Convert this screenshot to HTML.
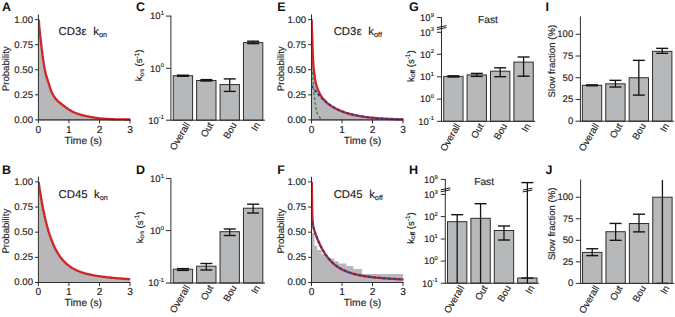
<!DOCTYPE html>
<html><head><meta charset="utf-8"><style>
html,body{margin:0;padding:0;background:#fff;}
svg{display:block;}
text{font-family:"Liberation Sans",sans-serif;text-rendering:geometricPrecision;stroke:#1c1c1c;stroke-width:0.15px;}
</style></head><body>
<svg width="675" height="317" viewBox="0 0 675 317">
<defs>
<clipPath id="cA"><rect x="38.4" y="10" width="96" height="112"/></clipPath>
<clipPath id="cB"><rect x="38.4" y="172" width="96" height="113"/></clipPath>
<clipPath id="cE"><rect x="311.5" y="10" width="96" height="112"/></clipPath>
<clipPath id="cF"><rect x="311.5" y="172" width="96" height="113"/></clipPath>
</defs>
<rect width="675" height="317" fill="#fff"/>
<path d="M38.5,19.6 L38.6,20.6 L38.7,21.7 L38.8,22.7 L38.9,23.7 L38.9,24.8 L39.0,25.8 L39.1,26.8 L39.2,27.8 L39.3,28.9 L39.4,29.9 L39.5,31.0 L39.6,32.0 L39.7,33.1 L39.8,34.1 L39.9,35.2 L40.1,36.3 L40.2,37.3 L40.3,38.4 L40.4,39.5 L40.6,40.6 L40.7,41.7 L40.8,42.8 L41.0,43.9 L41.1,45.0 L41.2,46.2 L41.4,47.5 L41.5,48.7 L41.7,50.0 L41.9,51.3 L42.0,52.6 L42.2,53.9 L42.3,55.2 L42.5,56.4 L42.7,57.7 L42.8,58.9 L43.0,60.0 L43.1,60.9 L43.3,61.8 L43.4,62.7 L43.6,63.6 L43.7,64.5 L43.9,65.3 L44.0,66.2 L44.1,67.0 L44.3,67.8 L44.4,68.6 L44.6,69.3 L44.7,70.0 L44.8,70.5 L44.9,70.9 L45.0,71.4 L45.1,71.8 L45.1,72.2 L45.2,72.6 L45.3,73.0 L45.4,73.4 L45.5,73.8 L45.6,74.2 L45.7,74.6 L45.8,75.0 L45.9,75.4 L46.0,75.8 L46.2,76.3 L46.3,76.7 L46.4,77.1 L46.6,77.5 L46.7,77.9 L46.8,78.3 L47.0,78.8 L47.1,79.2 L47.3,79.6 L47.4,80.0 L47.5,80.4 L47.7,80.8 L47.8,81.2 L47.9,81.7 L48.1,82.1 L48.2,82.5 L48.3,82.9 L48.5,83.3 L48.6,83.7 L48.7,84.2 L48.9,84.6 L49.0,85.0 L49.1,85.4 L49.3,85.8 L49.4,86.3 L49.5,86.7 L49.6,87.1 L49.8,87.5 L49.9,87.9 L50.0,88.3 L50.2,88.8 L50.3,89.2 L50.4,89.6 L50.6,90.0 L50.8,90.4 L50.9,90.8 L51.1,91.3 L51.3,91.7 L51.5,92.1 L51.6,92.5 L51.8,92.9 L52.0,93.4 L52.2,93.8 L52.4,94.2 L52.7,94.6 L52.9,95.0 L53.2,95.4 L53.4,95.9 L53.7,96.3 L54.0,96.8 L54.4,97.2 L54.7,97.6 L55.0,98.1 L55.3,98.5 L55.7,98.9 L56.0,99.3 L56.3,99.7 L56.6,100.0 L56.8,100.3 L57.1,100.5 L57.3,100.7 L57.5,101.0 L57.7,101.2 L58.0,101.4 L58.2,101.6 L58.4,101.8 L58.7,102.0 L58.9,102.2 L59.2,102.4 L59.4,102.6 L59.7,102.8 L60.0,103.1 L60.3,103.3 L60.6,103.5 L60.9,103.8 L61.2,104.0 L61.5,104.2 L61.8,104.5 L62.1,104.7 L62.4,104.9 L62.7,105.2 L63.0,105.4 L63.3,105.6 L63.6,105.8 L63.9,106.1 L64.2,106.3 L64.5,106.5 L64.8,106.7 L65.0,106.9 L65.3,107.2 L65.6,107.4 L65.9,107.6 L66.2,107.8 L66.5,108.0 L66.8,108.2 L67.1,108.4 L67.3,108.6 L67.6,108.8 L67.9,109.0 L68.1,109.2 L68.4,109.4 L68.7,109.6 L69.0,109.8 L69.2,109.9 L69.5,110.1 L69.8,110.3 L70.1,110.5 L70.4,110.6 L70.6,110.8 L70.9,110.9 L71.2,111.1 L71.5,111.2 L71.7,111.4 L72.0,111.5 L72.3,111.7 L72.6,111.8 L73.0,111.9 L73.3,112.1 L73.8,112.3 L74.3,112.5 L74.8,112.7 L75.4,113.0 L75.9,113.2 L76.5,113.4 L77.1,113.6 L77.7,113.8 L78.3,114.0 L78.8,114.2 L79.4,114.4 L80.0,114.6 L80.6,114.8 L81.2,114.9 L81.7,115.1 L82.3,115.2 L82.9,115.4 L83.5,115.5 L84.1,115.7 L84.7,115.8 L85.3,115.9 L85.9,116.1 L86.4,116.2 L87.0,116.3 L87.5,116.4 L88.0,116.5 L88.5,116.6 L89.0,116.7 L89.5,116.8 L90.0,116.9 L90.5,117.0 L91.0,117.1 L91.5,117.1 L92.0,117.2 L92.5,117.3 L93.0,117.4 L93.6,117.5 L94.1,117.6 L94.7,117.7 L95.2,117.8 L95.8,117.8 L96.4,117.9 L97.0,118.0 L97.6,118.1 L98.1,118.2 L98.8,118.3 L99.4,118.3 L100.0,118.4 L100.8,118.5 L101.6,118.6 L102.4,118.6 L103.2,118.7 L104.0,118.7 L104.9,118.8 L105.7,118.9 L106.6,118.9 L107.5,119.0 L108.3,119.0 L109.2,119.1 L110.0,119.1 L110.8,119.1 L111.7,119.2 L112.5,119.2 L113.3,119.2 L114.2,119.3 L115.0,119.3 L115.8,119.3 L116.7,119.3 L117.5,119.3 L118.3,119.4 L119.2,119.4 L120.0,119.4 L120.8,119.4 L121.7,119.4 L122.5,119.4 L123.3,119.4 L124.2,119.5 L125.0,119.5 L125.8,119.5 L126.7,119.5 L127.5,119.5 L128.3,119.5 L129.2,119.5 L130.0,119.5 L130.00,119.90 L38.40,119.90 Z" fill="#b8b8ba" stroke="none" transform="translate(-0.4,0.5)"/>
<path d="M38.5,19.6 L38.6,20.6 L38.7,21.7 L38.8,22.7 L38.9,23.7 L38.9,24.8 L39.0,25.8 L39.1,26.8 L39.2,27.8 L39.3,28.9 L39.4,29.9 L39.5,31.0 L39.6,32.0 L39.7,33.1 L39.8,34.1 L39.9,35.2 L40.1,36.3 L40.2,37.3 L40.3,38.4 L40.4,39.5 L40.6,40.6 L40.7,41.7 L40.8,42.8 L41.0,43.9 L41.1,45.0 L41.2,46.2 L41.4,47.5 L41.5,48.7 L41.7,50.0 L41.9,51.3 L42.0,52.6 L42.2,53.9 L42.3,55.2 L42.5,56.4 L42.7,57.7 L42.8,58.9 L43.0,60.0 L43.1,60.9 L43.3,61.8 L43.4,62.7 L43.6,63.6 L43.7,64.5 L43.9,65.3 L44.0,66.2 L44.1,67.0 L44.3,67.8 L44.4,68.6 L44.6,69.3 L44.7,70.0 L44.8,70.5 L44.9,70.9 L45.0,71.4 L45.1,71.8 L45.1,72.2 L45.2,72.6 L45.3,73.0 L45.4,73.4 L45.5,73.8 L45.6,74.2 L45.7,74.6 L45.8,75.0 L45.9,75.4 L46.0,75.8 L46.2,76.3 L46.3,76.7 L46.4,77.1 L46.6,77.5 L46.7,77.9 L46.8,78.3 L47.0,78.8 L47.1,79.2 L47.3,79.6 L47.4,80.0 L47.5,80.4 L47.7,80.8 L47.8,81.2 L47.9,81.7 L48.1,82.1 L48.2,82.5 L48.3,82.9 L48.5,83.3 L48.6,83.7 L48.7,84.2 L48.9,84.6 L49.0,85.0 L49.1,85.4 L49.3,85.8 L49.4,86.3 L49.5,86.7 L49.6,87.1 L49.8,87.5 L49.9,87.9 L50.0,88.3 L50.2,88.8 L50.3,89.2 L50.4,89.6 L50.6,90.0 L50.8,90.4 L50.9,90.8 L51.1,91.3 L51.3,91.7 L51.5,92.1 L51.6,92.5 L51.8,92.9 L52.0,93.4 L52.2,93.8 L52.4,94.2 L52.7,94.6 L52.9,95.0 L53.2,95.4 L53.4,95.9 L53.7,96.3 L54.0,96.8 L54.4,97.2 L54.7,97.6 L55.0,98.1 L55.3,98.5 L55.7,98.9 L56.0,99.3 L56.3,99.7 L56.6,100.0 L56.8,100.3 L57.1,100.5 L57.3,100.7 L57.5,101.0 L57.7,101.2 L58.0,101.4 L58.2,101.6 L58.4,101.8 L58.7,102.0 L58.9,102.2 L59.2,102.4 L59.4,102.6 L59.7,102.8 L60.0,103.1 L60.3,103.3 L60.6,103.5 L60.9,103.8 L61.2,104.0 L61.5,104.2 L61.8,104.5 L62.1,104.7 L62.4,104.9 L62.7,105.2 L63.0,105.4 L63.3,105.6 L63.6,105.8 L63.9,106.1 L64.2,106.3 L64.5,106.5 L64.8,106.7 L65.0,106.9 L65.3,107.2 L65.6,107.4 L65.9,107.6 L66.2,107.8 L66.5,108.0 L66.8,108.2 L67.1,108.4 L67.3,108.6 L67.6,108.8 L67.9,109.0 L68.1,109.2 L68.4,109.4 L68.7,109.6 L69.0,109.8 L69.2,109.9 L69.5,110.1 L69.8,110.3 L70.1,110.5 L70.4,110.6 L70.6,110.8 L70.9,110.9 L71.2,111.1 L71.5,111.2 L71.7,111.4 L72.0,111.5 L72.3,111.7 L72.6,111.8 L73.0,111.9 L73.3,112.1 L73.8,112.3 L74.3,112.5 L74.8,112.7 L75.4,113.0 L75.9,113.2 L76.5,113.4 L77.1,113.6 L77.7,113.8 L78.3,114.0 L78.8,114.2 L79.4,114.4 L80.0,114.6 L80.6,114.8 L81.2,114.9 L81.7,115.1 L82.3,115.2 L82.9,115.4 L83.5,115.5 L84.1,115.7 L84.7,115.8 L85.3,115.9 L85.9,116.1 L86.4,116.2 L87.0,116.3 L87.5,116.4 L88.0,116.5 L88.5,116.6 L89.0,116.7 L89.5,116.8 L90.0,116.9 L90.5,117.0 L91.0,117.1 L91.5,117.1 L92.0,117.2 L92.5,117.3 L93.0,117.4 L93.6,117.5 L94.1,117.6 L94.7,117.7 L95.2,117.8 L95.8,117.8 L96.4,117.9 L97.0,118.0 L97.6,118.1 L98.1,118.2 L98.8,118.3 L99.4,118.3 L100.0,118.4 L100.8,118.5 L101.6,118.6 L102.4,118.6 L103.2,118.7 L104.0,118.7 L104.9,118.8 L105.7,118.9 L106.6,118.9 L107.5,119.0 L108.3,119.0 L109.2,119.1 L110.0,119.1 L110.8,119.1 L111.7,119.2 L112.5,119.2 L113.3,119.2 L114.2,119.3 L115.0,119.3 L115.8,119.3 L116.7,119.3 L117.5,119.3 L118.3,119.4 L119.2,119.4 L120.0,119.4 L120.8,119.4 L121.7,119.4 L122.5,119.4 L123.3,119.4 L124.2,119.5 L125.0,119.5 L125.8,119.5 L126.7,119.5 L127.5,119.5 L128.3,119.5 L129.2,119.5 L130.0,119.5" fill="none" stroke="#d02529" stroke-width="2.35" transform="translate(0.2,0)" clip-path="url(#cA)"/>
<line x1="38.40" y1="14.40" x2="38.40" y2="120.40" stroke="#2e2e2e" stroke-width="1" />
<line x1="35.00" y1="119.90" x2="38.40" y2="119.90" stroke="#2e2e2e" stroke-width="1" />
<text x="33.00" y="122.80" font-size="9.6" text-anchor="end" font-weight="normal" fill="#1c1c1c" >0.00</text>
<line x1="35.00" y1="94.83" x2="38.40" y2="94.83" stroke="#2e2e2e" stroke-width="1" />
<text x="33.00" y="97.73" font-size="9.6" text-anchor="end" font-weight="normal" fill="#1c1c1c" >0.25</text>
<line x1="35.00" y1="69.75" x2="38.40" y2="69.75" stroke="#2e2e2e" stroke-width="1" />
<text x="33.00" y="72.65" font-size="9.6" text-anchor="end" font-weight="normal" fill="#1c1c1c" >0.50</text>
<line x1="35.00" y1="44.67" x2="38.40" y2="44.67" stroke="#2e2e2e" stroke-width="1" />
<text x="33.00" y="47.57" font-size="9.6" text-anchor="end" font-weight="normal" fill="#1c1c1c" >0.75</text>
<line x1="35.00" y1="19.60" x2="38.40" y2="19.60" stroke="#2e2e2e" stroke-width="1" />
<text x="33.00" y="22.50" font-size="9.6" text-anchor="end" font-weight="normal" fill="#1c1c1c" >1.00</text>
<line x1="37.90" y1="119.90" x2="130.50" y2="119.90" stroke="#2e2e2e" stroke-width="1.2" />
<line x1="38.40" y1="119.90" x2="38.40" y2="123.40" stroke="#2e2e2e" stroke-width="1" />
<text x="38.40" y="132.80" font-size="10.2" text-anchor="middle" font-weight="normal" fill="#1c1c1c" >0</text>
<line x1="68.93" y1="119.90" x2="68.93" y2="123.40" stroke="#2e2e2e" stroke-width="1" />
<text x="68.93" y="132.80" font-size="10.2" text-anchor="middle" font-weight="normal" fill="#1c1c1c" >1</text>
<line x1="99.47" y1="119.90" x2="99.47" y2="123.40" stroke="#2e2e2e" stroke-width="1" />
<text x="99.47" y="132.80" font-size="10.2" text-anchor="middle" font-weight="normal" fill="#1c1c1c" >2</text>
<line x1="130.00" y1="119.90" x2="130.00" y2="123.40" stroke="#2e2e2e" stroke-width="1" />
<text x="130.00" y="132.80" font-size="10.2" text-anchor="middle" font-weight="normal" fill="#1c1c1c" >3</text>
<text x="83.30" y="143.60" font-size="10.3" text-anchor="middle" font-weight="normal" fill="#1c1c1c" >Time (s)</text>
<text x="0" y="0" font-size="9.6" text-anchor="middle" fill="#1c1c1c" transform="translate(9.40,68.75) rotate(-90)">Probability</text>
<text x="58.6" y="35.3" font-size="11.3" fill="#1c1c1c">CD3<tspan dx="0.4">ε</tspan><tspan dx="6.6">k</tspan><tspan font-size="7.3" dy="1.8">on</tspan></text>
<text x="2.00" y="11.20" font-size="12.5" text-anchor="start" font-weight="bold" fill="#111" style="stroke:none">A</text>
<path d="M38.4,184.9 L38.4,185.1 L38.5,185.3 L38.5,185.7 L38.6,186.1 L38.7,186.6 L38.7,187.2 L38.8,187.9 L38.9,188.6 L39.0,189.3 L39.2,190.1 L39.3,190.9 L39.4,191.7 L39.6,192.6 L39.7,193.5 L39.9,194.5 L40.0,195.5 L40.2,196.5 L40.4,197.5 L40.5,198.5 L40.7,199.6 L40.9,200.7 L41.1,201.8 L41.3,202.9 L41.5,204.0 L41.7,205.1 L41.9,206.3 L42.1,207.4 L42.4,208.6 L42.6,209.7 L42.8,210.9 L43.1,212.0 L43.3,213.2 L43.6,214.4 L43.8,215.5 L44.1,216.7 L44.3,217.8 L44.6,219.0 L44.9,220.1 L45.2,221.2 L45.4,222.4 L45.7,223.5 L46.0,224.6 L46.3,225.7 L46.6,226.8 L46.9,227.9 L47.2,229.0 L47.5,230.0 L47.8,231.1 L48.1,232.1 L48.4,233.1 L48.8,234.2 L49.1,235.1 L49.4,236.1 L49.8,237.1 L50.1,238.1 L50.4,239.0 L50.8,239.9 L51.1,240.9 L51.5,241.8 L51.9,242.6 L52.2,243.5 L52.6,244.4 L52.9,245.2 L53.3,246.0 L53.7,246.8 L54.1,247.6 L54.4,248.4 L54.8,249.2 L55.2,249.9 L55.6,250.7 L56.0,251.4 L56.4,252.1 L56.8,252.8 L57.2,253.4 L57.6,254.1 L58.0,254.7 L58.5,255.4 L58.9,256.0 L59.3,256.6 L59.7,257.2 L60.1,257.8 L60.6,258.3 L61.0,258.9 L61.4,259.4 L61.9,259.9 L62.3,260.4 L62.8,260.9 L63.2,261.4 L63.7,261.9 L64.1,262.3 L64.6,262.8 L65.1,263.2 L65.5,263.7 L66.0,264.1 L66.5,264.5 L66.9,264.9 L67.4,265.3 L67.9,265.6 L68.4,266.0 L68.9,266.4 L69.3,266.7 L69.8,267.0 L70.3,267.4 L70.8,267.7 L71.3,268.0 L71.8,268.3 L72.3,268.6 L72.9,268.9 L73.4,269.2 L73.9,269.4 L74.4,269.7 L74.9,270.0 L75.4,270.2 L76.0,270.5 L76.5,270.7 L77.0,270.9 L77.6,271.1 L78.1,271.4 L78.6,271.6 L79.2,271.8 L79.7,272.0 L80.3,272.2 L80.8,272.4 L81.4,272.6 L81.9,272.7 L82.5,272.9 L83.0,273.1 L83.6,273.3 L84.2,273.4 L84.7,273.6 L85.3,273.7 L85.9,273.9 L86.5,274.0 L87.1,274.2 L87.6,274.3 L88.2,274.5 L88.8,274.6 L89.4,274.7 L90.0,274.8 L90.6,275.0 L91.2,275.1 L91.8,275.2 L92.4,275.3 L93.0,275.4 L93.6,275.6 L94.2,275.7 L94.8,275.8 L95.4,275.9 L96.1,276.0 L96.7,276.1 L97.3,276.2 L97.9,276.3 L98.6,276.4 L99.2,276.4 L99.8,276.5 L100.4,276.6 L101.1,276.7 L101.7,276.8 L102.4,276.9 L103.0,277.0 L103.7,277.0 L104.3,277.1 L105.0,277.2 L105.6,277.3 L106.3,277.3 L106.9,277.4 L107.6,277.5 L108.3,277.5 L108.9,277.6 L109.6,277.7 L110.3,277.8 L110.9,277.8 L111.6,277.9 L112.3,277.9 L113.0,278.0 L113.7,278.1 L114.3,278.1 L115.0,278.2 L115.7,278.2 L116.4,278.3 L117.1,278.4 L117.8,278.4 L118.5,278.5 L119.2,278.5 L119.9,278.6 L120.6,278.6 L121.3,278.7 L122.0,278.7 L122.7,278.8 L123.5,278.8 L124.2,278.9 L124.9,278.9 L125.6,279.0 L126.3,279.0 L127.1,279.1 L127.8,279.1 L128.5,279.2 L129.3,279.2 L130.0,279.3 L130.00,282.50 L38.40,282.50 Z" fill="#b8b8ba" stroke="none"/>
<path d="M38.4,181.9 L38.4,182.0 L38.5,182.3 L38.5,182.7 L38.6,183.2 L38.7,183.7 L38.7,184.3 L38.8,184.9 L38.9,185.6 L39.0,186.4 L39.2,187.2 L39.3,188.0 L39.4,188.9 L39.6,189.8 L39.7,190.8 L39.9,191.8 L40.0,192.8 L40.2,193.8 L40.4,194.9 L40.5,196.0 L40.7,197.0 L40.9,198.2 L41.1,199.3 L41.3,200.4 L41.5,201.6 L41.7,202.7 L41.9,203.9 L42.1,205.1 L42.4,206.3 L42.6,207.5 L42.8,208.7 L43.1,209.9 L43.3,211.1 L43.6,212.3 L43.8,213.4 L44.1,214.6 L44.3,215.8 L44.6,217.0 L44.9,218.2 L45.2,219.4 L45.4,220.5 L45.7,221.7 L46.0,222.8 L46.3,224.0 L46.6,225.1 L46.9,226.2 L47.2,227.3 L47.5,228.4 L47.8,229.5 L48.1,230.6 L48.4,231.6 L48.8,232.7 L49.1,233.7 L49.4,234.7 L49.8,235.7 L50.1,236.7 L50.4,237.7 L50.8,238.6 L51.1,239.6 L51.5,240.5 L51.9,241.4 L52.2,242.3 L52.6,243.2 L52.9,244.0 L53.3,244.9 L53.7,245.7 L54.1,246.5 L54.4,247.4 L54.8,248.1 L55.2,248.9 L55.6,249.7 L56.0,250.4 L56.4,251.1 L56.8,251.8 L57.2,252.5 L57.6,253.2 L58.0,253.9 L58.5,254.5 L58.9,255.2 L59.3,255.8 L59.7,256.4 L60.1,257.0 L60.6,257.6 L61.0,258.1 L61.4,258.7 L61.9,259.2 L62.3,259.7 L62.8,260.3 L63.2,260.8 L63.7,261.2 L64.1,261.7 L64.6,262.2 L65.1,262.6 L65.5,263.1 L66.0,263.5 L66.5,263.9 L66.9,264.3 L67.4,264.7 L67.9,265.1 L68.4,265.5 L68.9,265.9 L69.3,266.2 L69.8,266.6 L70.3,266.9 L70.8,267.2 L71.3,267.6 L71.8,267.9 L72.3,268.2 L72.9,268.5 L73.4,268.8 L73.9,269.0 L74.4,269.3 L74.9,269.6 L75.4,269.8 L76.0,270.1 L76.5,270.3 L77.0,270.6 L77.6,270.8 L78.1,271.0 L78.6,271.2 L79.2,271.5 L79.7,271.7 L80.3,271.9 L80.8,272.1 L81.4,272.3 L81.9,272.4 L82.5,272.6 L83.0,272.8 L83.6,273.0 L84.2,273.1 L84.7,273.3 L85.3,273.5 L85.9,273.6 L86.5,273.8 L87.1,273.9 L87.6,274.1 L88.2,274.2 L88.8,274.3 L89.4,274.5 L90.0,274.6 L90.6,274.7 L91.2,274.9 L91.8,275.0 L92.4,275.1 L93.0,275.2 L93.6,275.3 L94.2,275.4 L94.8,275.6 L95.4,275.7 L96.1,275.8 L96.7,275.9 L97.3,276.0 L97.9,276.1 L98.6,276.2 L99.2,276.3 L99.8,276.3 L100.4,276.4 L101.1,276.5 L101.7,276.6 L102.4,276.7 L103.0,276.8 L103.7,276.9 L104.3,276.9 L105.0,277.0 L105.6,277.1 L106.3,277.2 L106.9,277.3 L107.6,277.3 L108.3,277.4 L108.9,277.5 L109.6,277.5 L110.3,277.6 L110.9,277.7 L111.6,277.7 L112.3,277.8 L113.0,277.9 L113.7,277.9 L114.3,278.0 L115.0,278.1 L115.7,278.1 L116.4,278.2 L117.1,278.2 L117.8,278.3 L118.5,278.3 L119.2,278.4 L119.9,278.5 L120.6,278.5 L121.3,278.6 L122.0,278.6 L122.7,278.7 L123.5,278.7 L124.2,278.8 L124.9,278.8 L125.6,278.9 L126.3,278.9 L127.1,279.0 L127.8,279.0 L128.5,279.1 L129.3,279.1 L130.0,279.1" fill="none" stroke="#d02529" stroke-width="2.35" transform="translate(0.2,0)" clip-path="url(#cB)"/>
<line x1="38.40" y1="176.70" x2="38.40" y2="283.00" stroke="#2e2e2e" stroke-width="1" />
<line x1="35.00" y1="282.50" x2="38.40" y2="282.50" stroke="#2e2e2e" stroke-width="1" />
<text x="33.00" y="285.40" font-size="9.6" text-anchor="end" font-weight="normal" fill="#1c1c1c" >0.00</text>
<line x1="35.00" y1="257.35" x2="38.40" y2="257.35" stroke="#2e2e2e" stroke-width="1" />
<text x="33.00" y="260.25" font-size="9.6" text-anchor="end" font-weight="normal" fill="#1c1c1c" >0.25</text>
<line x1="35.00" y1="232.20" x2="38.40" y2="232.20" stroke="#2e2e2e" stroke-width="1" />
<text x="33.00" y="235.10" font-size="9.6" text-anchor="end" font-weight="normal" fill="#1c1c1c" >0.50</text>
<line x1="35.00" y1="207.05" x2="38.40" y2="207.05" stroke="#2e2e2e" stroke-width="1" />
<text x="33.00" y="209.95" font-size="9.6" text-anchor="end" font-weight="normal" fill="#1c1c1c" >0.75</text>
<line x1="35.00" y1="181.90" x2="38.40" y2="181.90" stroke="#2e2e2e" stroke-width="1" />
<text x="33.00" y="184.80" font-size="9.6" text-anchor="end" font-weight="normal" fill="#1c1c1c" >1.00</text>
<line x1="37.90" y1="282.50" x2="130.50" y2="282.50" stroke="#2e2e2e" stroke-width="1.2" />
<line x1="38.40" y1="282.50" x2="38.40" y2="286.00" stroke="#2e2e2e" stroke-width="1" />
<text x="38.40" y="295.40" font-size="10.2" text-anchor="middle" font-weight="normal" fill="#1c1c1c" >0</text>
<line x1="68.93" y1="282.50" x2="68.93" y2="286.00" stroke="#2e2e2e" stroke-width="1" />
<text x="68.93" y="295.40" font-size="10.2" text-anchor="middle" font-weight="normal" fill="#1c1c1c" >1</text>
<line x1="99.47" y1="282.50" x2="99.47" y2="286.00" stroke="#2e2e2e" stroke-width="1" />
<text x="99.47" y="295.40" font-size="10.2" text-anchor="middle" font-weight="normal" fill="#1c1c1c" >2</text>
<line x1="130.00" y1="282.50" x2="130.00" y2="286.00" stroke="#2e2e2e" stroke-width="1" />
<text x="130.00" y="295.40" font-size="10.2" text-anchor="middle" font-weight="normal" fill="#1c1c1c" >3</text>
<text x="83.30" y="306.20" font-size="10.3" text-anchor="middle" font-weight="normal" fill="#1c1c1c" >Time (s)</text>
<text x="0" y="0" font-size="9.6" text-anchor="middle" fill="#1c1c1c" transform="translate(9.40,231.20) rotate(-90)">Probability</text>
<text x="58.6" y="197.8" font-size="11.3" fill="#1c1c1c">CD45<tspan dx="6.6">k</tspan><tspan font-size="7.3" dy="1.8">on</tspan></text>
<text x="2.00" y="173.80" font-size="12.5" text-anchor="start" font-weight="bold" fill="#111" style="stroke:none">B</text>
<path d="M311.6,19.6 L311.6,20.5 L311.6,21.3 L311.7,22.2 L311.7,23.1 L311.7,23.9 L311.7,24.8 L311.8,25.7 L311.8,26.5 L311.8,27.4 L311.8,28.3 L311.9,29.1 L311.9,30.0 L311.9,30.8 L312.0,31.7 L312.0,32.5 L312.0,33.3 L312.1,34.2 L312.1,35.0 L312.1,35.8 L312.2,36.7 L312.2,37.5 L312.2,38.3 L312.3,39.2 L312.3,40.0 L312.3,40.8 L312.4,41.7 L312.4,42.5 L312.4,43.3 L312.4,44.2 L312.4,45.0 L312.5,45.8 L312.5,46.7 L312.5,47.5 L312.5,48.3 L312.6,49.2 L312.6,50.0 L312.6,50.8 L312.7,51.7 L312.7,52.5 L312.7,53.3 L312.7,54.2 L312.8,55.0 L312.8,55.8 L312.8,56.7 L312.9,57.5 L312.9,58.3 L313.0,59.2 L313.0,60.0 L313.1,60.8 L313.1,61.7 L313.2,62.5 L313.2,63.3 L313.3,64.2 L313.3,65.0 L313.4,65.8 L313.5,66.7 L313.5,67.5 L313.6,68.3 L313.7,69.2 L313.8,70.0 L313.9,70.8 L314.0,71.7 L314.1,72.6 L314.2,73.5 L314.3,74.3 L314.5,75.2 L314.6,76.1 L314.7,76.9 L314.8,77.7 L314.9,78.5 L315.1,79.3 L315.2,80.0 L315.3,80.5 L315.4,80.9 L315.5,81.4 L315.5,81.8 L315.6,82.2 L315.7,82.6 L315.8,83.0 L315.9,83.4 L316.0,83.8 L316.1,84.2 L316.2,84.6 L316.3,85.0 L316.4,85.4 L316.6,85.9 L316.7,86.3 L316.8,86.7 L317.0,87.2 L317.1,87.6 L317.3,88.1 L317.4,88.5 L317.6,88.9 L317.7,89.3 L317.9,89.6 L318.0,90.0 L318.1,90.2 L318.2,90.5 L318.3,90.7 L318.4,90.9 L318.5,91.1 L318.5,91.3 L318.6,91.4 L318.7,91.6 L318.8,91.8 L318.9,92.0 L319.0,92.2 L319.1,92.4 L319.2,92.6 L319.3,92.8 L319.4,93.0 L319.5,93.3 L319.6,93.5 L319.7,93.7 L319.8,93.9 L319.9,94.1 L320.0,94.3 L320.2,94.6 L320.3,94.8 L320.4,95.0 L320.5,95.2 L320.7,95.5 L320.8,95.7 L321.0,95.9 L321.1,96.2 L321.3,96.4 L321.4,96.7 L321.6,96.9 L321.7,97.1 L321.9,97.4 L322.0,97.6 L322.2,97.8 L322.4,98.0 L322.5,98.2 L322.7,98.4 L322.9,98.6 L323.0,98.8 L323.2,99.0 L323.4,99.1 L323.6,99.3 L323.7,99.5 L323.9,99.7 L324.1,99.9 L324.3,100.1 L324.5,100.3 L324.7,100.6 L324.9,100.8 L325.2,101.0 L325.4,101.3 L325.6,101.5 L325.9,101.7 L326.1,102.0 L326.3,102.2 L326.5,102.5 L326.8,102.7 L327.0,103.0 L328.0,103.8 L328.9,104.5 L329.9,105.1 L330.8,105.8 L331.8,106.4 L332.8,107.0 L333.7,107.5 L334.7,108.1 L335.7,108.6 L336.6,109.0 L337.6,109.5 L338.5,110.0 L339.5,110.4 L340.5,110.8 L341.4,111.2 L342.4,111.6 L343.4,111.9 L344.3,112.3 L345.3,112.6 L346.2,112.9 L347.2,113.2 L348.2,113.5 L349.1,113.8 L350.1,114.0 L351.1,114.3 L352.0,114.5 L353.0,114.7 L353.9,115.0 L354.9,115.2 L355.9,115.4 L356.8,115.6 L357.8,115.8 L358.7,115.9 L359.7,116.1 L360.7,116.3 L361.6,116.4 L362.6,116.6 L363.6,116.7 L364.5,116.9 L365.5,117.0 L366.4,117.1 L367.4,117.2 L368.4,117.3 L369.3,117.5 L370.3,117.6 L371.3,117.7 L372.2,117.8 L373.2,117.8 L374.1,117.9 L375.1,118.0 L376.1,118.1 L377.0,118.2 L378.0,118.3 L378.9,118.3 L379.9,118.4 L380.9,118.5 L381.8,118.5 L382.8,118.6 L383.8,118.6 L384.7,118.7 L385.7,118.7 L386.6,118.8 L387.6,118.8 L388.6,118.9 L389.5,118.9 L390.5,119.0 L391.5,119.0 L392.4,119.0 L393.4,119.1 L394.3,119.1 L395.3,119.2 L396.3,119.2 L397.2,119.2 L398.2,119.2 L399.2,119.3 L400.1,119.3 L401.1,119.3 L402.0,119.3 L403.0,119.4 L403.00,119.90 L311.50,119.90 Z" fill="#b8b8ba" stroke="none" transform="translate(-0.3,0.6)"/>
<path d="M311.6,19.6 L311.6,20.5 L311.6,21.3 L311.7,22.2 L311.7,23.1 L311.7,23.9 L311.7,24.8 L311.8,25.7 L311.8,26.5 L311.8,27.4 L311.8,28.3 L311.9,29.1 L311.9,30.0 L311.9,30.8 L312.0,31.7 L312.0,32.5 L312.0,33.3 L312.1,34.2 L312.1,35.0 L312.1,35.8 L312.2,36.7 L312.2,37.5 L312.2,38.3 L312.3,39.2 L312.3,40.0 L312.3,40.8 L312.4,41.7 L312.4,42.5 L312.4,43.3 L312.4,44.2 L312.4,45.0 L312.5,45.8 L312.5,46.7 L312.5,47.5 L312.5,48.3 L312.6,49.2 L312.6,50.0 L312.6,50.8 L312.7,51.7 L312.7,52.5 L312.7,53.3 L312.7,54.2 L312.8,55.0 L312.8,55.8 L312.8,56.7 L312.9,57.5 L312.9,58.3 L313.0,59.2 L313.0,60.0 L313.1,60.8 L313.1,61.7 L313.2,62.5 L313.2,63.3 L313.3,64.2 L313.3,65.0 L313.4,65.8 L313.5,66.7 L313.5,67.5 L313.6,68.3 L313.7,69.2 L313.8,70.0 L313.9,70.8 L314.0,71.7 L314.1,72.6 L314.2,73.5 L314.3,74.3 L314.5,75.2 L314.6,76.1 L314.7,76.9 L314.8,77.7 L314.9,78.5 L315.1,79.3 L315.2,80.0 L315.3,80.5 L315.4,80.9 L315.5,81.4 L315.5,81.8 L315.6,82.2 L315.7,82.6 L315.8,83.0 L315.9,83.4 L316.0,83.8 L316.1,84.2 L316.2,84.6 L316.3,85.0 L316.4,85.4 L316.6,85.9 L316.7,86.3 L316.8,86.7 L317.0,87.2 L317.1,87.6 L317.3,88.1 L317.4,88.5 L317.6,88.9 L317.7,89.3 L317.9,89.6 L318.0,90.0 L318.1,90.2 L318.2,90.5 L318.3,90.7 L318.4,90.9 L318.5,91.1 L318.5,91.3 L318.6,91.4 L318.7,91.6 L318.8,91.8 L318.9,92.0 L319.0,92.2 L319.1,92.4 L319.2,92.6 L319.3,92.8 L319.4,93.0 L319.5,93.3 L319.6,93.5 L319.7,93.7 L319.8,93.9 L319.9,94.1 L320.0,94.3 L320.2,94.6 L320.3,94.8 L320.4,95.0 L320.5,95.2 L320.7,95.5 L320.8,95.7 L321.0,95.9 L321.1,96.2 L321.3,96.4 L321.4,96.7 L321.6,96.9 L321.7,97.1 L321.9,97.4 L322.0,97.6 L322.2,97.8 L322.4,98.0 L322.5,98.2 L322.7,98.4 L322.9,98.6 L323.0,98.8 L323.2,99.0 L323.4,99.1 L323.6,99.3 L323.7,99.5 L323.9,99.7 L324.1,99.9 L324.3,100.1 L324.5,100.3 L324.7,100.6 L324.9,100.8 L325.2,101.0 L325.4,101.3 L325.6,101.5 L325.9,101.7 L326.1,102.0 L326.3,102.2 L326.5,102.5 L326.8,102.7 L327.0,103.0 L328.0,103.8 L328.9,104.5 L329.9,105.1 L330.8,105.8 L331.8,106.4 L332.8,107.0 L333.7,107.5 L334.7,108.1 L335.7,108.6 L336.6,109.0 L337.6,109.5 L338.5,110.0 L339.5,110.4 L340.5,110.8 L341.4,111.2 L342.4,111.6 L343.4,111.9 L344.3,112.3 L345.3,112.6 L346.2,112.9 L347.2,113.2 L348.2,113.5 L349.1,113.8 L350.1,114.0 L351.1,114.3 L352.0,114.5 L353.0,114.7 L353.9,115.0 L354.9,115.2 L355.9,115.4 L356.8,115.6 L357.8,115.8 L358.7,115.9 L359.7,116.1 L360.7,116.3 L361.6,116.4 L362.6,116.6 L363.6,116.7 L364.5,116.9 L365.5,117.0 L366.4,117.1 L367.4,117.2 L368.4,117.3 L369.3,117.5 L370.3,117.6 L371.3,117.7 L372.2,117.8 L373.2,117.8 L374.1,117.9 L375.1,118.0 L376.1,118.1 L377.0,118.2 L378.0,118.3 L378.9,118.3 L379.9,118.4 L380.9,118.5 L381.8,118.5 L382.8,118.6 L383.8,118.6 L384.7,118.7 L385.7,118.7 L386.6,118.8 L387.6,118.8 L388.6,118.9 L389.5,118.9 L390.5,119.0 L391.5,119.0 L392.4,119.0 L393.4,119.1 L394.3,119.1 L395.3,119.2 L396.3,119.2 L397.2,119.2 L398.2,119.2 L399.2,119.3 L400.1,119.3 L401.1,119.3 L402.0,119.3 L403.0,119.4" fill="none" stroke="#d02529" stroke-width="2.35" transform="translate(0.05,0)" clip-path="url(#cE)"/>
<path d="M311.5,85.8 L311.5,85.8 L311.6,85.9 L311.6,86.0 L311.7,86.1 L311.8,86.2 L311.8,86.3 L311.9,86.5 L312.0,86.6 L312.1,86.8 L312.3,87.0 L312.4,87.2 L312.5,87.4 L312.7,87.6 L312.8,87.8 L313.0,88.0 L313.1,88.2 L313.3,88.5 L313.5,88.7 L313.6,89.0 L313.8,89.2 L314.0,89.5 L314.2,89.7 L314.4,90.0 L314.6,90.3 L314.8,90.6 L315.0,90.9 L315.2,91.1 L315.5,91.4 L315.7,91.7 L315.9,92.0 L316.2,92.3 L316.4,92.6 L316.7,92.9 L316.9,93.3 L317.2,93.6 L317.4,93.9 L317.7,94.2 L318.0,94.5 L318.2,94.8 L318.5,95.1 L318.8,95.5 L319.1,95.8 L319.4,96.1 L319.7,96.4 L320.0,96.7 L320.3,97.0 L320.6,97.4 L320.9,97.7 L321.2,98.0 L321.5,98.3 L321.9,98.6 L322.2,98.9 L322.5,99.3 L322.9,99.6 L323.2,99.9 L323.5,100.2 L323.9,100.5 L324.2,100.8 L324.6,101.1 L324.9,101.4 L325.3,101.7 L325.7,102.0 L326.0,102.3 L326.4,102.6 L326.8,102.9 L327.2,103.2 L327.5,103.5 L327.9,103.8 L328.3,104.0 L328.7,104.3 L329.1,104.6 L329.5,104.9 L329.9,105.1 L330.3,105.4 L330.7,105.7 L331.1,105.9 L331.5,106.2 L331.9,106.5 L332.4,106.7 L332.8,107.0 L333.2,107.2 L333.6,107.5 L334.1,107.7 L334.5,108.0 L335.0,108.2 L335.4,108.4 L335.8,108.7 L336.3,108.9 L336.8,109.1 L337.2,109.3 L337.7,109.6 L338.1,109.8 L338.6,110.0 L339.1,110.2 L339.5,110.4 L340.0,110.6 L340.5,110.8 L341.0,111.0 L341.4,111.2 L341.9,111.4 L342.4,111.6 L342.9,111.7 L343.4,111.9 L343.9,112.1 L344.4,112.3 L344.9,112.5 L345.4,112.6 L345.9,112.8 L346.4,113.0 L346.9,113.1 L347.5,113.3 L348.0,113.4 L348.5,113.6 L349.0,113.7 L349.6,113.9 L350.1,114.0 L350.6,114.2 L351.2,114.3 L351.7,114.4 L352.2,114.6 L352.8,114.7 L353.3,114.8 L353.9,115.0 L354.4,115.1 L355.0,115.2 L355.5,115.3 L356.1,115.4 L356.7,115.5 L357.2,115.7 L357.8,115.8 L358.4,115.9 L358.9,116.0 L359.5,116.1 L360.1,116.2 L360.7,116.3 L361.3,116.4 L361.9,116.5 L362.4,116.6 L363.0,116.6 L363.6,116.7 L364.2,116.8 L364.8,116.9 L365.4,117.0 L366.0,117.1 L366.6,117.1 L367.2,117.2 L367.9,117.3 L368.5,117.4 L369.1,117.4 L369.7,117.5 L370.3,117.6 L371.0,117.6 L371.6,117.7 L372.2,117.8 L372.8,117.8 L373.5,117.9 L374.1,117.9 L374.8,118.0 L375.4,118.0 L376.0,118.1 L376.7,118.2 L377.3,118.2 L378.0,118.3 L378.6,118.3 L379.3,118.3 L380.0,118.4 L380.6,118.4 L381.3,118.5 L381.9,118.5 L382.6,118.6 L383.3,118.6 L384.0,118.6 L384.6,118.7 L385.3,118.7 L386.0,118.8 L386.7,118.8 L387.4,118.8 L388.0,118.9 L388.7,118.9 L389.4,118.9 L390.1,119.0 L390.8,119.0 L391.5,119.0 L392.2,119.0 L392.9,119.1 L393.6,119.1 L394.3,119.1 L395.0,119.1 L395.8,119.2 L396.5,119.2 L397.2,119.2 L397.9,119.2 L398.6,119.3 L399.3,119.3 L400.1,119.3 L400.8,119.3 L401.5,119.3 L402.3,119.4 L403.0,119.4" fill="none" stroke="#2e3d8f" stroke-width="1.9" stroke-dasharray="3,2" transform="translate(0.4,0)"/>
<path d="M312.3,72.1 L312.3,72.3 L312.3,72.8 L312.3,73.5 L312.4,74.3 L312.4,75.3 L312.5,76.3 L312.5,77.4 L312.6,78.6 L312.7,79.8 L312.8,81.1 L312.8,82.4 L312.9,83.7 L313.0,85.1 L313.1,86.5 L313.2,87.8 L313.3,89.2 L313.4,90.5 L313.5,91.9 L313.6,93.2 L313.7,94.5 L313.9,95.8 L314.0,97.0 L314.1,98.2 L314.3,99.4 L314.4,100.5 L314.5,101.7 L314.7,102.7 L314.8,103.7 L315.0,104.7 L315.1,105.7 L315.3,106.6 L315.4,107.4 L315.6,108.2 L315.7,109.0 L315.9,109.8 L316.1,110.5 L316.2,111.1 L316.4,111.7 L316.6,112.3 L316.8,112.9 L316.9,113.4 L317.1,113.9 L317.3,114.4 L317.5,114.8 L317.7,115.2 L317.9,115.6 L318.1,115.9 L318.3,116.2 L318.5,116.5 L318.7,116.8 L318.9,117.1 L319.1,117.3 L319.3,117.5 L319.5,117.8 L319.8,117.9 L320.0,118.1 L320.2,118.3 L320.4,118.4 L320.6,118.6" fill="none" stroke="#3d8b45" stroke-width="1.4" stroke-dasharray="3,2" transform="translate(0.4,0)" clip-path="url(#cE)"/>
<line x1="311.50" y1="14.40" x2="311.50" y2="120.40" stroke="#2e2e2e" stroke-width="1" />
<line x1="308.10" y1="119.90" x2="311.50" y2="119.90" stroke="#2e2e2e" stroke-width="1" />
<text x="306.10" y="122.80" font-size="9.6" text-anchor="end" font-weight="normal" fill="#1c1c1c" >0.00</text>
<line x1="308.10" y1="94.83" x2="311.50" y2="94.83" stroke="#2e2e2e" stroke-width="1" />
<text x="306.10" y="97.73" font-size="9.6" text-anchor="end" font-weight="normal" fill="#1c1c1c" >0.25</text>
<line x1="308.10" y1="69.75" x2="311.50" y2="69.75" stroke="#2e2e2e" stroke-width="1" />
<text x="306.10" y="72.65" font-size="9.6" text-anchor="end" font-weight="normal" fill="#1c1c1c" >0.50</text>
<line x1="308.10" y1="44.67" x2="311.50" y2="44.67" stroke="#2e2e2e" stroke-width="1" />
<text x="306.10" y="47.57" font-size="9.6" text-anchor="end" font-weight="normal" fill="#1c1c1c" >0.75</text>
<line x1="308.10" y1="19.60" x2="311.50" y2="19.60" stroke="#2e2e2e" stroke-width="1" />
<text x="306.10" y="22.50" font-size="9.6" text-anchor="end" font-weight="normal" fill="#1c1c1c" >1.00</text>
<line x1="311.00" y1="119.90" x2="403.50" y2="119.90" stroke="#2e2e2e" stroke-width="1.2" />
<line x1="311.50" y1="119.90" x2="311.50" y2="123.40" stroke="#2e2e2e" stroke-width="1" />
<text x="311.50" y="132.80" font-size="10.2" text-anchor="middle" font-weight="normal" fill="#1c1c1c" >0</text>
<line x1="342.00" y1="119.90" x2="342.00" y2="123.40" stroke="#2e2e2e" stroke-width="1" />
<text x="342.00" y="132.80" font-size="10.2" text-anchor="middle" font-weight="normal" fill="#1c1c1c" >1</text>
<line x1="372.50" y1="119.90" x2="372.50" y2="123.40" stroke="#2e2e2e" stroke-width="1" />
<text x="372.50" y="132.80" font-size="10.2" text-anchor="middle" font-weight="normal" fill="#1c1c1c" >2</text>
<line x1="403.00" y1="119.90" x2="403.00" y2="123.40" stroke="#2e2e2e" stroke-width="1" />
<text x="403.00" y="132.80" font-size="10.2" text-anchor="middle" font-weight="normal" fill="#1c1c1c" >3</text>
<text x="362.55" y="143.60" font-size="10.3" text-anchor="middle" font-weight="normal" fill="#1c1c1c" >Time (s)</text>
<text x="0" y="0" font-size="9.6" text-anchor="middle" fill="#1c1c1c" transform="translate(283.90,68.75) rotate(-90)">Probability</text>
<text x="333.7" y="35.4" font-size="11.3" fill="#1c1c1c">CD3<tspan dx="0.4">ε</tspan><tspan dx="6.6">k</tspan><tspan font-size="7.3" dy="1.8">off</tspan></text>
<text x="277.20" y="11.20" font-size="12.5" text-anchor="start" font-weight="bold" fill="#111" style="stroke:none">E</text>
<path d="M311.50,282.50 L311.50,233.00 L311.50,233.00 L314.40,233.00 L314.40,245.70 L317.20,245.70 L317.20,250.00 L321.50,250.00 L321.50,254.20 L325.70,254.20 L325.70,257.70 L330.70,257.70 L330.70,258.40 L334.20,258.40 L334.20,261.30 L338.50,261.30 L338.50,263.40 L346.30,263.40 L346.30,266.00 L353.40,266.00 L353.40,269.00 L362.00,269.00 L362.00,274.10 L403.00,274.10 L403.00,282.50 Z" fill="#b8b8ba" stroke="none"/>
<path d="M311.5,181.9 L311.5,182.6 L311.5,183.9 L311.5,185.7 L311.6,187.8 L311.6,190.1 L311.6,192.5 L311.6,194.9 L311.7,197.4 L311.7,199.8 L311.8,202.2 L311.8,204.5 L311.8,206.7 L311.9,208.7 L311.9,210.6 L312.0,212.4 L312.0,214.1 L312.1,215.6 L312.1,217.0 L312.2,218.2 L312.3,219.3 L312.3,220.4 L312.4,221.3 L312.5,222.1 L312.5,222.9 L312.6,223.6 L312.7,224.2 L312.7,224.8 L312.8,225.3 L312.9,225.8 L313.0,226.2 L313.0,226.7 L313.1,227.1 L313.2,227.4 L313.3,227.8 L313.4,228.1 L313.4,228.5 L313.5,228.8 L313.6,229.1 L313.7,229.4 L313.8,229.7 L313.9,230.0 L314.0,230.3 L314.1,230.6 L314.2,231.0 L314.3,231.3 L314.4,231.6 L314.5,231.9 L314.6,232.2 L314.7,232.5 L314.8,232.8 L314.9,233.1 L315.0,233.4 L315.1,233.7 L315.2,234.0 L315.3,234.3 L315.5,234.6 L315.6,234.9 L315.7,235.3 L315.8,235.6 L315.9,235.9 L316.0,236.2 L316.2,236.5 L316.3,236.8 L316.4,237.2 L316.5,237.5 L316.6,237.8 L316.8,238.1 L316.9,238.4 L317.0,238.7 L317.1,239.1 L317.3,239.4 L317.4,239.7 L317.5,240.0 L317.7,240.3 L317.8,240.7 L317.9,241.0 L318.1,241.3 L318.2,241.6 L318.4,241.9 L318.5,242.2 L318.6,242.6 L318.8,242.9 L318.9,243.2 L319.1,243.5 L319.2,243.8 L319.4,244.1 L319.5,244.4 L319.6,244.8 L319.8,245.1 L319.9,245.4 L320.1,245.7 L320.2,246.0 L320.4,246.3 L320.6,246.6 L320.7,246.9 L320.9,247.2 L321.0,247.5 L321.2,247.8 L321.3,248.1 L321.5,248.4 L321.7,248.7 L321.8,249.0 L322.0,249.3 L322.1,249.6 L322.3,249.9 L322.5,250.2 L322.6,250.4 L322.8,250.7 L323.0,251.0 L323.1,251.3 L323.3,251.6 L323.5,251.9 L323.7,252.1 L323.8,252.4 L324.0,252.7 L324.2,253.0 L324.4,253.2 L324.5,253.5 L324.7,253.8 L324.9,254.0 L325.1,254.3 L325.2,254.6 L325.4,254.8 L325.6,255.1 L325.8,255.3 L326.0,255.6 L326.2,255.9 L326.3,256.1 L326.5,256.4 L326.7,256.6 L326.9,256.9 L327.1,257.1 L327.3,257.3 L327.5,257.6 L327.7,257.8 L327.9,258.1 L328.0,258.3 L328.2,258.5 L328.4,258.8 L328.6,259.0 L328.8,259.2 L329.0,259.4 L329.2,259.7 L329.4,259.9 L329.6,260.1 L329.8,260.3 L330.0,260.6 L330.2,260.8 L330.4,261.0 L330.6,261.2 L330.8,261.4 L331.0,261.6 L331.2,261.8 L331.4,262.0 L331.7,262.2 L331.9,262.4 L332.1,262.6 L332.3,262.8 L332.5,263.0 L332.7,263.2 L332.9,263.4 L333.1,263.6 L333.3,263.8 L333.6,264.0 L333.8,264.1 L334.0,264.3 L334.2,264.5 L334.4,264.7 L334.6,264.9 L334.9,265.0 L335.1,265.2 L335.3,265.4 L335.5,265.5 L335.8,265.7 L336.0,265.9 L336.2,266.0 L336.4,266.2 L336.6,266.4 L336.9,266.5 L337.1,266.7 L337.3,266.8 L337.6,267.0 L337.8,267.1 L338.0,267.3 L338.3,267.4 L338.5,267.6 L338.7,267.7 L338.9,267.9 L339.2,268.0 L339.4,268.2 L339.7,268.3 L339.9,268.4 L340.1,268.6 L340.4,268.7 L340.6,268.8 L340.8,269.0 L341.1,269.1 L341.3,269.2 L341.6,269.4 L341.8,269.5 L342.0,269.6 L342.3,269.7 L342.5,269.9 L342.8,270.0 L343.0,270.1 L343.3,270.2 L343.5,270.3 L343.8,270.5 L344.0,270.6 L344.3,270.7 L344.5,270.8 L344.8,270.9 L345.0,271.0 L345.3,271.1 L345.5,271.2 L345.8,271.3 L346.0,271.4 L346.3,271.5 L346.5,271.6 L346.8,271.7 L347.1,271.8 L347.3,271.9 L347.6,272.0 L347.8,272.1 L348.1,272.2 L348.4,272.3 L348.6,272.4 L348.9,272.5 L349.1,272.6 L349.4,272.7 L349.7,272.8 L349.9,272.9 L350.2,272.9 L350.5,273.0 L350.7,273.1 L351.0,273.2 L351.3,273.3 L351.5,273.4 L351.8,273.4 L352.1,273.5 L352.3,273.6 L352.6,273.7 L352.9,273.7 L353.2,273.8 L353.4,273.9 L353.7,274.0 L354.0,274.0 L354.3,274.1 L354.5,274.2 L354.8,274.2 L355.1,274.3 L355.4,274.4 L355.6,274.5 L355.9,274.5 L356.2,274.6 L356.5,274.7 L356.8,274.7 L357.0,274.8 L357.3,274.8 L357.6,274.9 L357.9,275.0 L358.2,275.0 L358.5,275.1 L358.8,275.1 L359.0,275.2 L359.3,275.3 L359.6,275.3 L359.9,275.4 L360.2,275.4 L360.5,275.5 L360.8,275.5 L361.1,275.6 L361.4,275.6 L361.6,275.7 L361.9,275.7 L362.2,275.8 L362.5,275.8 L362.8,275.9 L363.1,275.9 L363.4,276.0 L363.7,276.0 L364.0,276.1 L364.3,276.1 L364.6,276.2 L364.9,276.2 L365.2,276.3 L365.5,276.3 L365.8,276.4 L366.1,276.4 L366.4,276.5 L366.7,276.5 L367.0,276.5 L367.3,276.6 L367.6,276.6 L367.9,276.7 L368.2,276.7 L368.6,276.7 L368.9,276.8 L369.2,276.8 L369.5,276.9 L369.8,276.9 L370.1,276.9 L370.4,277.0 L370.7,277.0 L371.0,277.1 L371.3,277.1 L371.7,277.1 L372.0,277.2 L372.3,277.2 L372.6,277.2 L372.9,277.3 L373.2,277.3 L373.5,277.3 L373.9,277.4 L374.2,277.4 L374.5,277.4 L374.8,277.5 L375.1,277.5 L375.5,277.5 L375.8,277.6 L376.1,277.6 L376.4,277.6 L376.8,277.7 L377.1,277.7 L377.4,277.7 L377.7,277.8 L378.0,277.8 L378.4,277.8 L378.7,277.8 L379.0,277.9 L379.4,277.9 L379.7,277.9 L380.0,278.0 L380.3,278.0 L380.7,278.0 L381.0,278.0 L381.3,278.1 L381.7,278.1 L382.0,278.1 L382.3,278.1 L382.7,278.2 L383.0,278.2 L383.3,278.2 L383.7,278.2 L384.0,278.3 L384.3,278.3 L384.7,278.3 L385.0,278.3 L385.4,278.4 L385.7,278.4 L386.0,278.4 L386.4,278.4 L386.7,278.5 L387.1,278.5 L387.4,278.5 L387.7,278.5 L388.1,278.6 L388.4,278.6 L388.8,278.6 L389.1,278.6 L389.5,278.6 L389.8,278.7 L390.2,278.7 L390.5,278.7 L390.8,278.7 L391.2,278.8 L391.5,278.8 L391.9,278.8 L392.2,278.8 L392.6,278.8 L392.9,278.9 L393.3,278.9 L393.6,278.9 L394.0,278.9 L394.4,278.9 L394.7,279.0 L395.1,279.0 L395.4,279.0 L395.8,279.0 L396.1,279.0 L396.5,279.1 L396.8,279.1 L397.2,279.1 L397.6,279.1 L397.9,279.1 L398.3,279.1 L398.6,279.2 L399.0,279.2 L399.4,279.2 L399.7,279.2 L400.1,279.2 L400.4,279.3 L400.8,279.3 L401.2,279.3 L401.5,279.3 L401.9,279.3 L402.3,279.3 L402.6,279.4 L403.0,279.4" fill="none" stroke="#d02529" stroke-width="2.35" transform="translate(0.3,0)" clip-path="url(#cF)"/>
<path d="M311.5,222.1 L311.5,222.2 L311.6,222.3 L311.6,222.5 L311.7,222.8 L311.8,223.0 L311.8,223.3 L311.9,223.7 L312.0,224.0 L312.1,224.4 L312.3,224.8 L312.4,225.2 L312.5,225.7 L312.7,226.2 L312.8,226.6 L313.0,227.1 L313.1,227.7 L313.3,228.2 L313.5,228.7 L313.6,229.3 L313.8,229.9 L314.0,230.4 L314.2,231.0 L314.4,231.6 L314.6,232.2 L314.8,232.8 L315.0,233.4 L315.2,234.1 L315.5,234.7 L315.7,235.3 L315.9,235.9 L316.2,236.6 L316.4,237.2 L316.7,237.8 L316.9,238.5 L317.2,239.1 L317.4,239.8 L317.7,240.4 L318.0,241.0 L318.2,241.7 L318.5,242.3 L318.8,242.9 L319.1,243.6 L319.4,244.2 L319.7,244.8 L320.0,245.4 L320.3,246.1 L320.6,246.7 L320.9,247.3 L321.2,247.9 L321.5,248.5 L321.9,249.1 L322.2,249.7 L322.5,250.2 L322.9,250.8 L323.2,251.4 L323.5,251.9 L323.9,252.5 L324.2,253.0 L324.6,253.6 L324.9,254.1 L325.3,254.7 L325.7,255.2 L326.0,255.7 L326.4,256.2 L326.8,256.7 L327.2,257.2 L327.5,257.7 L327.9,258.1 L328.3,258.6 L328.7,259.1 L329.1,259.5 L329.5,260.0 L329.9,260.4 L330.3,260.8 L330.7,261.3 L331.1,261.7 L331.5,262.1 L331.9,262.5 L332.4,262.9 L332.8,263.3 L333.2,263.7 L333.6,264.0 L334.1,264.4 L334.5,264.8 L335.0,265.1 L335.4,265.4 L335.8,265.8 L336.3,266.1 L336.8,266.4 L337.2,266.8 L337.7,267.1 L338.1,267.4 L338.6,267.7 L339.1,267.9 L339.5,268.2 L340.0,268.5 L340.5,268.8 L341.0,269.0 L341.4,269.3 L341.9,269.6 L342.4,269.8 L342.9,270.0 L343.4,270.3 L343.9,270.5 L344.4,270.7 L344.9,271.0 L345.4,271.2 L345.9,271.4 L346.4,271.6 L346.9,271.8 L347.5,272.0 L348.0,272.2 L348.5,272.4 L349.0,272.6 L349.6,272.7 L350.1,272.9 L350.6,273.1 L351.2,273.2 L351.7,273.4 L352.2,273.6 L352.8,273.7 L353.3,273.9 L353.9,274.0 L354.4,274.2 L355.0,274.3 L355.5,274.4 L356.1,274.6 L356.7,274.7 L357.2,274.8 L357.8,274.9 L358.4,275.1 L358.9,275.2 L359.5,275.3 L360.1,275.4 L360.7,275.5 L361.3,275.6 L361.9,275.7 L362.4,275.8 L363.0,275.9 L363.6,276.0 L364.2,276.1 L364.8,276.2 L365.4,276.3 L366.0,276.4 L366.6,276.5 L367.2,276.6 L367.9,276.7 L368.5,276.7 L369.1,276.8 L369.7,276.9 L370.3,277.0 L371.0,277.0 L371.6,277.1 L372.2,277.2 L372.8,277.3 L373.5,277.3 L374.1,277.4 L374.8,277.5 L375.4,277.5 L376.0,277.6 L376.7,277.7 L377.3,277.7 L378.0,277.8 L378.6,277.8 L379.3,277.9 L380.0,277.9 L380.6,278.0 L381.3,278.1 L381.9,278.1 L382.6,278.2 L383.3,278.2 L384.0,278.3 L384.6,278.3 L385.3,278.4 L386.0,278.4 L386.7,278.5 L387.4,278.5 L388.0,278.6 L388.7,278.6 L389.4,278.6 L390.1,278.7 L390.8,278.7 L391.5,278.8 L392.2,278.8 L392.9,278.9 L393.6,278.9 L394.3,278.9 L395.0,279.0 L395.8,279.0 L396.5,279.1 L397.2,279.1 L397.9,279.1 L398.6,279.2 L399.3,279.2 L400.1,279.2 L400.8,279.3 L401.5,279.3 L402.3,279.3 L403.0,279.4" fill="none" stroke="#2e3d8f" stroke-width="1.9" stroke-dasharray="3,2" transform="translate(0.4,0)"/>
<line x1="311.50" y1="176.70" x2="311.50" y2="283.00" stroke="#2e2e2e" stroke-width="1" />
<line x1="308.10" y1="282.50" x2="311.50" y2="282.50" stroke="#2e2e2e" stroke-width="1" />
<text x="306.10" y="285.40" font-size="9.6" text-anchor="end" font-weight="normal" fill="#1c1c1c" >0.00</text>
<line x1="308.10" y1="257.35" x2="311.50" y2="257.35" stroke="#2e2e2e" stroke-width="1" />
<text x="306.10" y="260.25" font-size="9.6" text-anchor="end" font-weight="normal" fill="#1c1c1c" >0.25</text>
<line x1="308.10" y1="232.20" x2="311.50" y2="232.20" stroke="#2e2e2e" stroke-width="1" />
<text x="306.10" y="235.10" font-size="9.6" text-anchor="end" font-weight="normal" fill="#1c1c1c" >0.50</text>
<line x1="308.10" y1="207.05" x2="311.50" y2="207.05" stroke="#2e2e2e" stroke-width="1" />
<text x="306.10" y="209.95" font-size="9.6" text-anchor="end" font-weight="normal" fill="#1c1c1c" >0.75</text>
<line x1="308.10" y1="181.90" x2="311.50" y2="181.90" stroke="#2e2e2e" stroke-width="1" />
<text x="306.10" y="184.80" font-size="9.6" text-anchor="end" font-weight="normal" fill="#1c1c1c" >1.00</text>
<line x1="311.00" y1="282.50" x2="403.50" y2="282.50" stroke="#2e2e2e" stroke-width="1.2" />
<line x1="311.50" y1="282.50" x2="311.50" y2="286.00" stroke="#2e2e2e" stroke-width="1" />
<text x="311.50" y="295.40" font-size="10.2" text-anchor="middle" font-weight="normal" fill="#1c1c1c" >0</text>
<line x1="342.00" y1="282.50" x2="342.00" y2="286.00" stroke="#2e2e2e" stroke-width="1" />
<text x="342.00" y="295.40" font-size="10.2" text-anchor="middle" font-weight="normal" fill="#1c1c1c" >1</text>
<line x1="372.50" y1="282.50" x2="372.50" y2="286.00" stroke="#2e2e2e" stroke-width="1" />
<text x="372.50" y="295.40" font-size="10.2" text-anchor="middle" font-weight="normal" fill="#1c1c1c" >2</text>
<line x1="403.00" y1="282.50" x2="403.00" y2="286.00" stroke="#2e2e2e" stroke-width="1" />
<text x="403.00" y="295.40" font-size="10.2" text-anchor="middle" font-weight="normal" fill="#1c1c1c" >3</text>
<text x="362.55" y="306.20" font-size="10.3" text-anchor="middle" font-weight="normal" fill="#1c1c1c" >Time (s)</text>
<text x="0" y="0" font-size="9.6" text-anchor="middle" fill="#1c1c1c" transform="translate(283.90,231.20) rotate(-90)">Probability</text>
<text x="333.7" y="197.8" font-size="11.3" fill="#1c1c1c">CD45<tspan dx="6.6">k</tspan><tspan font-size="7.3" dy="1.8">off</tspan></text>
<text x="277.20" y="173.80" font-size="12.5" text-anchor="start" font-weight="bold" fill="#111" style="stroke:none">F</text>
<rect x="173.25" y="75.70" width="19.35" height="44.50" fill="#b7b8ba" stroke="#2e2e2e" stroke-width="1"/>
<rect x="196.65" y="80.50" width="19.35" height="39.70" fill="#b7b8ba" stroke="#2e2e2e" stroke-width="1"/>
<rect x="220.05" y="84.60" width="19.35" height="35.60" fill="#b7b8ba" stroke="#2e2e2e" stroke-width="1"/>
<rect x="243.45" y="42.60" width="19.35" height="77.60" fill="#b7b8ba" stroke="#2e2e2e" stroke-width="1"/>
<line x1="182.93" y1="75.20" x2="182.93" y2="76.30" stroke="#151515" stroke-width="1.3" />
<line x1="176.93" y1="75.20" x2="188.93" y2="75.20" stroke="#151515" stroke-width="1.4" />
<line x1="176.93" y1="76.30" x2="188.93" y2="76.30" stroke="#151515" stroke-width="1.4" />
<line x1="206.33" y1="79.60" x2="206.33" y2="81.00" stroke="#151515" stroke-width="1.3" />
<line x1="200.33" y1="79.60" x2="212.33" y2="79.60" stroke="#151515" stroke-width="1.4" />
<line x1="200.33" y1="81.00" x2="212.33" y2="81.00" stroke="#151515" stroke-width="1.4" />
<line x1="229.73" y1="78.90" x2="229.73" y2="91.40" stroke="#151515" stroke-width="1.3" />
<line x1="223.73" y1="78.90" x2="235.73" y2="78.90" stroke="#151515" stroke-width="1.4" />
<line x1="223.73" y1="91.40" x2="235.73" y2="91.40" stroke="#151515" stroke-width="1.4" />
<line x1="253.12" y1="41.20" x2="253.12" y2="43.60" stroke="#151515" stroke-width="1.3" />
<line x1="247.12" y1="41.20" x2="259.12" y2="41.20" stroke="#151515" stroke-width="1.4" />
<line x1="247.12" y1="43.60" x2="259.12" y2="43.60" stroke="#151515" stroke-width="1.4" />
<line x1="170.90" y1="15.60" x2="170.90" y2="120.70" stroke="#2e2e2e" stroke-width="1" />
<line x1="170.40" y1="120.20" x2="264.95" y2="120.20" stroke="#2e2e2e" stroke-width="1" />
<line x1="165.90" y1="16.10" x2="170.90" y2="16.10" stroke="#2e2e2e" stroke-width="1" />
<text x="163.90" y="19.40" font-size="9.5" text-anchor="end" font-weight="normal" fill="#1c1c1c" >10<tspan font-size="5.8" dy="-4.2">1</tspan></text>
<line x1="165.90" y1="68.30" x2="170.90" y2="68.30" stroke="#2e2e2e" stroke-width="1" />
<text x="163.90" y="71.60" font-size="9.5" text-anchor="end" font-weight="normal" fill="#1c1c1c" >10<tspan font-size="5.8" dy="-4.2">0</tspan></text>
<line x1="165.90" y1="120.20" x2="170.90" y2="120.20" stroke="#2e2e2e" stroke-width="1" />
<text x="163.90" y="123.50" font-size="9.5" text-anchor="end" font-weight="normal" fill="#1c1c1c" >10<tspan font-size="5.8" dy="-4.2">-1</tspan></text>
<text x="0" y="0" font-size="9.6" text-anchor="end" fill="#1c1c1c" transform="translate(190.23,124.70) rotate(-60)">Overall</text>
<text x="0" y="0" font-size="9.6" text-anchor="end" fill="#1c1c1c" transform="translate(213.63,124.70) rotate(-60)">Out</text>
<text x="0" y="0" font-size="9.6" text-anchor="end" fill="#1c1c1c" transform="translate(237.03,124.70) rotate(-60)">Bou</text>
<text x="0" y="0" font-size="9.6" text-anchor="end" fill="#1c1c1c" transform="translate(260.43,124.70) rotate(-60)">In</text>
<text x="0" y="0" font-size="9.6" text-anchor="middle" fill="#1c1c1c" transform="translate(142.40,65.35) rotate(-90)">k<tspan font-size="6.5" dy="1.8">on</tspan><tspan dy="-1.8"> (s</tspan><tspan font-size="6.5" dy="-3.4">-1</tspan><tspan dy="3.4">)</tspan></text>
<text x="136.10" y="11.20" font-size="12.5" text-anchor="start" font-weight="bold" fill="#111" style="stroke:none">C</text>
<rect x="173.25" y="269.20" width="19.35" height="13.80" fill="#b7b8ba" stroke="#2e2e2e" stroke-width="1"/>
<rect x="196.65" y="266.20" width="19.35" height="16.80" fill="#b7b8ba" stroke="#2e2e2e" stroke-width="1"/>
<rect x="220.05" y="231.70" width="19.35" height="51.30" fill="#b7b8ba" stroke="#2e2e2e" stroke-width="1"/>
<rect x="243.45" y="208.20" width="19.35" height="74.80" fill="#b7b8ba" stroke="#2e2e2e" stroke-width="1"/>
<line x1="182.93" y1="268.60" x2="182.93" y2="270.40" stroke="#151515" stroke-width="1.3" />
<line x1="176.93" y1="268.60" x2="188.93" y2="268.60" stroke="#151515" stroke-width="1.4" />
<line x1="176.93" y1="270.40" x2="188.93" y2="270.40" stroke="#151515" stroke-width="1.4" />
<line x1="206.33" y1="263.50" x2="206.33" y2="270.00" stroke="#151515" stroke-width="1.3" />
<line x1="200.33" y1="263.50" x2="212.33" y2="263.50" stroke="#151515" stroke-width="1.4" />
<line x1="200.33" y1="270.00" x2="212.33" y2="270.00" stroke="#151515" stroke-width="1.4" />
<line x1="229.73" y1="229.00" x2="229.73" y2="235.50" stroke="#151515" stroke-width="1.3" />
<line x1="223.73" y1="229.00" x2="235.73" y2="229.00" stroke="#151515" stroke-width="1.4" />
<line x1="223.73" y1="235.50" x2="235.73" y2="235.50" stroke="#151515" stroke-width="1.4" />
<line x1="253.12" y1="204.20" x2="253.12" y2="213.00" stroke="#151515" stroke-width="1.3" />
<line x1="247.12" y1="204.20" x2="259.12" y2="204.20" stroke="#151515" stroke-width="1.4" />
<line x1="247.12" y1="213.00" x2="259.12" y2="213.00" stroke="#151515" stroke-width="1.4" />
<line x1="170.90" y1="178.00" x2="170.90" y2="283.50" stroke="#2e2e2e" stroke-width="1" />
<line x1="170.40" y1="283.00" x2="264.95" y2="283.00" stroke="#2e2e2e" stroke-width="1" />
<line x1="165.90" y1="178.50" x2="170.90" y2="178.50" stroke="#2e2e2e" stroke-width="1" />
<text x="163.90" y="181.80" font-size="9.5" text-anchor="end" font-weight="normal" fill="#1c1c1c" >10<tspan font-size="5.8" dy="-4.2">1</tspan></text>
<line x1="165.90" y1="230.60" x2="170.90" y2="230.60" stroke="#2e2e2e" stroke-width="1" />
<text x="163.90" y="233.90" font-size="9.5" text-anchor="end" font-weight="normal" fill="#1c1c1c" >10<tspan font-size="5.8" dy="-4.2">0</tspan></text>
<line x1="165.90" y1="283.00" x2="170.90" y2="283.00" stroke="#2e2e2e" stroke-width="1" />
<text x="163.90" y="286.30" font-size="9.5" text-anchor="end" font-weight="normal" fill="#1c1c1c" >10<tspan font-size="5.8" dy="-4.2">-1</tspan></text>
<text x="0" y="0" font-size="9.6" text-anchor="end" fill="#1c1c1c" transform="translate(190.23,287.50) rotate(-60)">Overall</text>
<text x="0" y="0" font-size="9.6" text-anchor="end" fill="#1c1c1c" transform="translate(213.63,287.50) rotate(-60)">Out</text>
<text x="0" y="0" font-size="9.6" text-anchor="end" fill="#1c1c1c" transform="translate(237.03,287.50) rotate(-60)">Bou</text>
<text x="0" y="0" font-size="9.6" text-anchor="end" fill="#1c1c1c" transform="translate(260.43,287.50) rotate(-60)">In</text>
<text x="0" y="0" font-size="9.6" text-anchor="middle" fill="#1c1c1c" transform="translate(142.60,227.35) rotate(-90)">k<tspan font-size="6.5" dy="1.8">on</tspan><tspan dy="-1.8"> (s</tspan><tspan font-size="6.5" dy="-3.4">-1</tspan><tspan dy="3.4">)</tspan></text>
<text x="136.10" y="173.80" font-size="12.5" text-anchor="start" font-weight="bold" fill="#111" style="stroke:none">D</text>
<rect x="443.70" y="76.40" width="19.35" height="44.90" fill="#b7b8ba" stroke="#2e2e2e" stroke-width="1"/>
<rect x="467.10" y="74.90" width="19.35" height="46.40" fill="#b7b8ba" stroke="#2e2e2e" stroke-width="1"/>
<rect x="490.50" y="71.20" width="19.35" height="50.10" fill="#b7b8ba" stroke="#2e2e2e" stroke-width="1"/>
<rect x="513.90" y="62.10" width="19.35" height="59.20" fill="#b7b8ba" stroke="#2e2e2e" stroke-width="1"/>
<line x1="453.38" y1="75.80" x2="453.38" y2="77.00" stroke="#151515" stroke-width="1.3" />
<line x1="447.38" y1="75.80" x2="459.38" y2="75.80" stroke="#151515" stroke-width="1.4" />
<line x1="447.38" y1="77.00" x2="459.38" y2="77.00" stroke="#151515" stroke-width="1.4" />
<line x1="476.77" y1="73.40" x2="476.77" y2="76.40" stroke="#151515" stroke-width="1.3" />
<line x1="470.77" y1="73.40" x2="482.77" y2="73.40" stroke="#151515" stroke-width="1.4" />
<line x1="470.77" y1="76.40" x2="482.77" y2="76.40" stroke="#151515" stroke-width="1.4" />
<line x1="500.18" y1="67.80" x2="500.18" y2="76.70" stroke="#151515" stroke-width="1.3" />
<line x1="494.18" y1="67.80" x2="506.18" y2="67.80" stroke="#151515" stroke-width="1.4" />
<line x1="494.18" y1="76.70" x2="506.18" y2="76.70" stroke="#151515" stroke-width="1.4" />
<line x1="523.57" y1="57.00" x2="523.57" y2="76.20" stroke="#151515" stroke-width="1.3" />
<line x1="517.57" y1="57.00" x2="529.57" y2="57.00" stroke="#151515" stroke-width="1.4" />
<line x1="517.57" y1="76.20" x2="529.57" y2="76.20" stroke="#151515" stroke-width="1.4" />
<line x1="441.50" y1="17.00" x2="441.50" y2="121.80" stroke="#2e2e2e" stroke-width="1" />
<line x1="441.00" y1="121.30" x2="535.40" y2="121.30" stroke="#2e2e2e" stroke-width="1" />
<line x1="436.90" y1="27.55" x2="446.50" y2="25.65" stroke="#1a1a1a" stroke-width="1.0" />
<line x1="436.90" y1="29.45" x2="446.50" y2="27.55" stroke="#1a1a1a" stroke-width="1.0" />
<line x1="437.00" y1="17.50" x2="441.50" y2="17.50" stroke="#2e2e2e" stroke-width="1" />
<text x="433.90" y="20.80" font-size="9.5" text-anchor="end" font-weight="normal" fill="#1c1c1c" >10<tspan font-size="5.8" dy="-4.2">9</tspan></text>
<line x1="437.00" y1="32.30" x2="441.50" y2="32.30" stroke="#2e2e2e" stroke-width="1" />
<text x="433.90" y="35.60" font-size="9.5" text-anchor="end" font-weight="normal" fill="#1c1c1c" >10<tspan font-size="5.8" dy="-4.2">3</tspan></text>
<line x1="437.00" y1="54.30" x2="441.50" y2="54.30" stroke="#2e2e2e" stroke-width="1" />
<text x="433.90" y="57.60" font-size="9.5" text-anchor="end" font-weight="normal" fill="#1c1c1c" >10<tspan font-size="5.8" dy="-4.2">2</tspan></text>
<line x1="437.00" y1="76.80" x2="441.50" y2="76.80" stroke="#2e2e2e" stroke-width="1" />
<text x="433.90" y="80.10" font-size="9.5" text-anchor="end" font-weight="normal" fill="#1c1c1c" >10<tspan font-size="5.8" dy="-4.2">1</tspan></text>
<line x1="437.00" y1="99.10" x2="441.50" y2="99.10" stroke="#2e2e2e" stroke-width="1" />
<text x="433.90" y="102.40" font-size="9.5" text-anchor="end" font-weight="normal" fill="#1c1c1c" >10<tspan font-size="5.8" dy="-4.2">0</tspan></text>
<line x1="437.00" y1="121.30" x2="441.50" y2="121.30" stroke="#2e2e2e" stroke-width="1" />
<text x="433.90" y="124.60" font-size="9.5" text-anchor="end" font-weight="normal" fill="#1c1c1c" >10<tspan font-size="5.8" dy="-4.2">-1</tspan></text>
<text x="0" y="0" font-size="9.6" text-anchor="end" fill="#1c1c1c" transform="translate(460.68,125.80) rotate(-60)">Overall</text>
<text x="0" y="0" font-size="9.6" text-anchor="end" fill="#1c1c1c" transform="translate(484.07,125.80) rotate(-60)">Out</text>
<text x="0" y="0" font-size="9.6" text-anchor="end" fill="#1c1c1c" transform="translate(507.48,125.80) rotate(-60)">Bou</text>
<text x="0" y="0" font-size="9.6" text-anchor="end" fill="#1c1c1c" transform="translate(530.87,125.80) rotate(-60)">In</text>
<text x="0" y="0" font-size="9.6" text-anchor="middle" fill="#1c1c1c" transform="translate(413.50,66.10) rotate(-90)">k<tspan font-size="6.5" dy="1.8">off</tspan><tspan dy="-1.8"> (s</tspan><tspan font-size="6.5" dy="-3.4">-1</tspan><tspan dy="3.4">)</tspan></text>
<text x="488.00" y="23.10" font-size="10.2" text-anchor="middle" font-weight="normal" fill="#1c1c1c" >Fast</text>
<text x="409.10" y="11.20" font-size="12.5" text-anchor="start" font-weight="bold" fill="#111" style="stroke:none">G</text>
<rect x="447.50" y="221.70" width="19.35" height="61.50" fill="#b7b8ba" stroke="#2e2e2e" stroke-width="1"/>
<rect x="470.90" y="218.30" width="19.35" height="64.90" fill="#b7b8ba" stroke="#2e2e2e" stroke-width="1"/>
<rect x="494.30" y="230.50" width="19.35" height="52.70" fill="#b7b8ba" stroke="#2e2e2e" stroke-width="1"/>
<rect x="517.70" y="278.00" width="19.35" height="5.20" fill="#b7b8ba" stroke="#2e2e2e" stroke-width="1"/>
<line x1="457.18" y1="214.70" x2="457.18" y2="283.20" stroke="#151515" stroke-width="1.3" />
<line x1="451.18" y1="214.70" x2="463.18" y2="214.70" stroke="#151515" stroke-width="1.4" />
<line x1="480.57" y1="203.70" x2="480.57" y2="283.20" stroke="#151515" stroke-width="1.3" />
<line x1="474.57" y1="203.70" x2="486.57" y2="203.70" stroke="#151515" stroke-width="1.4" />
<line x1="503.98" y1="226.00" x2="503.98" y2="240.00" stroke="#151515" stroke-width="1.3" />
<line x1="497.98" y1="226.00" x2="509.98" y2="226.00" stroke="#151515" stroke-width="1.4" />
<line x1="497.98" y1="240.00" x2="509.98" y2="240.00" stroke="#151515" stroke-width="1.4" />
<line x1="527.38" y1="278.00" x2="527.38" y2="278.00" stroke="#151515" stroke-width="1.3" />
<line x1="521.38" y1="278.00" x2="533.38" y2="278.00" stroke="#151515" stroke-width="1.4" />
<line x1="445.30" y1="178.90" x2="445.30" y2="283.70" stroke="#2e2e2e" stroke-width="1" />
<line x1="444.80" y1="283.20" x2="539.20" y2="283.20" stroke="#2e2e2e" stroke-width="1" />
<line x1="440.70" y1="189.85" x2="450.30" y2="187.95" stroke="#1a1a1a" stroke-width="1.0" />
<line x1="440.70" y1="191.75" x2="450.30" y2="189.85" stroke="#1a1a1a" stroke-width="1.0" />
<line x1="440.80" y1="179.40" x2="445.30" y2="179.40" stroke="#2e2e2e" stroke-width="1" />
<text x="437.70" y="182.70" font-size="9.5" text-anchor="end" font-weight="normal" fill="#1c1c1c" >10<tspan font-size="5.8" dy="-4.2">9</tspan></text>
<line x1="440.80" y1="194.40" x2="445.30" y2="194.40" stroke="#2e2e2e" stroke-width="1" />
<text x="437.70" y="197.70" font-size="9.5" text-anchor="end" font-weight="normal" fill="#1c1c1c" >10<tspan font-size="5.8" dy="-4.2">3</tspan></text>
<line x1="440.80" y1="216.60" x2="445.30" y2="216.60" stroke="#2e2e2e" stroke-width="1" />
<text x="437.70" y="219.90" font-size="9.5" text-anchor="end" font-weight="normal" fill="#1c1c1c" >10<tspan font-size="5.8" dy="-4.2">2</tspan></text>
<line x1="440.80" y1="239.00" x2="445.30" y2="239.00" stroke="#2e2e2e" stroke-width="1" />
<text x="437.70" y="242.30" font-size="9.5" text-anchor="end" font-weight="normal" fill="#1c1c1c" >10<tspan font-size="5.8" dy="-4.2">1</tspan></text>
<line x1="440.80" y1="261.10" x2="445.30" y2="261.10" stroke="#2e2e2e" stroke-width="1" />
<text x="437.70" y="264.40" font-size="9.5" text-anchor="end" font-weight="normal" fill="#1c1c1c" >10<tspan font-size="5.8" dy="-4.2">0</tspan></text>
<line x1="440.80" y1="283.20" x2="445.30" y2="283.20" stroke="#2e2e2e" stroke-width="1" />
<text x="437.70" y="286.50" font-size="9.5" text-anchor="end" font-weight="normal" fill="#1c1c1c" >10<tspan font-size="5.8" dy="-4.2">-1</tspan></text>
<text x="0" y="0" font-size="9.6" text-anchor="end" fill="#1c1c1c" transform="translate(464.48,287.70) rotate(-60)">Overall</text>
<text x="0" y="0" font-size="9.6" text-anchor="end" fill="#1c1c1c" transform="translate(487.88,287.70) rotate(-60)">Out</text>
<text x="0" y="0" font-size="9.6" text-anchor="end" fill="#1c1c1c" transform="translate(511.28,287.70) rotate(-60)">Bou</text>
<text x="0" y="0" font-size="9.6" text-anchor="end" fill="#1c1c1c" transform="translate(534.67,287.70) rotate(-60)">In</text>
<text x="0" y="0" font-size="9.6" text-anchor="middle" fill="#1c1c1c" transform="translate(413.50,228.00) rotate(-90)">k<tspan font-size="6.5" dy="1.8">off</tspan><tspan dy="-1.8"> (s</tspan><tspan font-size="6.5" dy="-3.4">-1</tspan><tspan dy="3.4">)</tspan></text>
<text x="484.10" y="185.00" font-size="10.2" text-anchor="middle" font-weight="normal" fill="#1c1c1c" >Fast</text>
<text x="409.10" y="173.80" font-size="12.5" text-anchor="start" font-weight="bold" fill="#111" style="stroke:none">H</text>
<line x1="527.38" y1="182.60" x2="527.38" y2="283.20" stroke="#151515" stroke-width="1.3" />
<line x1="521.38" y1="182.60" x2="533.38" y2="182.60" stroke="#151515" stroke-width="1.4" />
<line x1="522.77" y1="190.05" x2="532.38" y2="188.15" stroke="#1a1a1a" stroke-width="1.0" />
<line x1="522.77" y1="191.95" x2="532.38" y2="190.05" stroke="#1a1a1a" stroke-width="1.0" />
<rect x="582.35" y="85.30" width="19.35" height="35.90" fill="#b7b8ba" stroke="#2e2e2e" stroke-width="1"/>
<rect x="605.75" y="83.83" width="19.35" height="37.37" fill="#b7b8ba" stroke="#2e2e2e" stroke-width="1"/>
<rect x="629.15" y="77.74" width="19.35" height="43.46" fill="#b7b8ba" stroke="#2e2e2e" stroke-width="1"/>
<rect x="652.55" y="51.32" width="19.35" height="69.88" fill="#b7b8ba" stroke="#2e2e2e" stroke-width="1"/>
<line x1="592.02" y1="84.87" x2="592.02" y2="85.74" stroke="#151515" stroke-width="1.3" />
<line x1="586.02" y1="84.87" x2="598.02" y2="84.87" stroke="#151515" stroke-width="1.4" />
<line x1="586.02" y1="85.74" x2="598.02" y2="85.74" stroke="#151515" stroke-width="1.4" />
<line x1="615.42" y1="80.35" x2="615.42" y2="87.04" stroke="#151515" stroke-width="1.3" />
<line x1="609.42" y1="80.35" x2="621.42" y2="80.35" stroke="#151515" stroke-width="1.4" />
<line x1="609.42" y1="87.04" x2="621.42" y2="87.04" stroke="#151515" stroke-width="1.4" />
<line x1="638.82" y1="60.36" x2="638.82" y2="95.12" stroke="#151515" stroke-width="1.3" />
<line x1="632.82" y1="60.36" x2="644.82" y2="60.36" stroke="#151515" stroke-width="1.4" />
<line x1="632.82" y1="95.12" x2="644.82" y2="95.12" stroke="#151515" stroke-width="1.4" />
<line x1="662.22" y1="48.36" x2="662.22" y2="53.32" stroke="#151515" stroke-width="1.3" />
<line x1="656.22" y1="48.36" x2="668.22" y2="48.36" stroke="#151515" stroke-width="1.4" />
<line x1="656.22" y1="53.32" x2="668.22" y2="53.32" stroke="#151515" stroke-width="1.4" />
<line x1="580.40" y1="16.40" x2="580.40" y2="121.70" stroke="#2e2e2e" stroke-width="1" />
<line x1="579.90" y1="121.20" x2="674.05" y2="121.20" stroke="#2e2e2e" stroke-width="1" />
<line x1="575.60" y1="121.20" x2="580.40" y2="121.20" stroke="#2e2e2e" stroke-width="1" />
<text x="573.20" y="124.10" font-size="9.5" text-anchor="end" font-weight="normal" fill="#1c1c1c" >0</text>
<line x1="575.60" y1="99.47" x2="580.40" y2="99.47" stroke="#2e2e2e" stroke-width="1" />
<text x="573.20" y="102.37" font-size="9.5" text-anchor="end" font-weight="normal" fill="#1c1c1c" >25</text>
<line x1="575.60" y1="77.74" x2="580.40" y2="77.74" stroke="#2e2e2e" stroke-width="1" />
<text x="573.20" y="80.64" font-size="9.5" text-anchor="end" font-weight="normal" fill="#1c1c1c" >50</text>
<line x1="575.60" y1="56.01" x2="580.40" y2="56.01" stroke="#2e2e2e" stroke-width="1" />
<text x="573.20" y="58.91" font-size="9.5" text-anchor="end" font-weight="normal" fill="#1c1c1c" >75</text>
<line x1="575.60" y1="34.28" x2="580.40" y2="34.28" stroke="#2e2e2e" stroke-width="1" />
<text x="573.20" y="37.18" font-size="9.5" text-anchor="end" font-weight="normal" fill="#1c1c1c" >100</text>
<text x="0" y="0" font-size="9.6" text-anchor="end" fill="#1c1c1c" transform="translate(599.32,125.70) rotate(-60)">Overall</text>
<text x="0" y="0" font-size="9.6" text-anchor="end" fill="#1c1c1c" transform="translate(622.72,125.70) rotate(-60)">Out</text>
<text x="0" y="0" font-size="9.6" text-anchor="end" fill="#1c1c1c" transform="translate(646.12,125.70) rotate(-60)">Bou</text>
<text x="0" y="0" font-size="9.6" text-anchor="end" fill="#1c1c1c" transform="translate(669.52,125.70) rotate(-60)">In</text>
<text x="0" y="0" font-size="9.6" text-anchor="middle" fill="#1c1c1c" transform="translate(555.20,61.15) rotate(-90)">Slow fraction (%)</text>
<text x="545.40" y="11.20" font-size="12.5" text-anchor="start" font-weight="bold" fill="#111" style="stroke:none">I</text>
<rect x="582.55" y="252.38" width="19.35" height="31.02" fill="#b7b8ba" stroke="#2e2e2e" stroke-width="1"/>
<rect x="605.95" y="231.70" width="19.35" height="51.70" fill="#b7b8ba" stroke="#2e2e2e" stroke-width="1"/>
<rect x="629.35" y="223.51" width="19.35" height="59.89" fill="#b7b8ba" stroke="#2e2e2e" stroke-width="1"/>
<rect x="652.75" y="197.23" width="19.35" height="86.17" fill="#b7b8ba" stroke="#2e2e2e" stroke-width="1"/>
<line x1="592.23" y1="248.76" x2="592.23" y2="255.65" stroke="#151515" stroke-width="1.3" />
<line x1="586.23" y1="248.76" x2="598.23" y2="248.76" stroke="#151515" stroke-width="1.4" />
<line x1="586.23" y1="255.65" x2="598.23" y2="255.65" stroke="#151515" stroke-width="1.4" />
<line x1="615.62" y1="223.43" x2="615.62" y2="240.32" stroke="#151515" stroke-width="1.3" />
<line x1="609.62" y1="223.43" x2="621.62" y2="223.43" stroke="#151515" stroke-width="1.4" />
<line x1="609.62" y1="240.32" x2="621.62" y2="240.32" stroke="#151515" stroke-width="1.4" />
<line x1="639.02" y1="214.21" x2="639.02" y2="231.87" stroke="#151515" stroke-width="1.3" />
<line x1="633.02" y1="214.21" x2="645.02" y2="214.21" stroke="#151515" stroke-width="1.4" />
<line x1="633.02" y1="231.87" x2="645.02" y2="231.87" stroke="#151515" stroke-width="1.4" />
<line x1="662.42" y1="180.00" x2="662.42" y2="283.40" stroke="#151515" stroke-width="1.3" />
<line x1="656.42" y1="283.40" x2="668.42" y2="283.40" stroke="#151515" stroke-width="1.4" />
<line x1="580.60" y1="179.50" x2="580.60" y2="283.90" stroke="#2e2e2e" stroke-width="1" />
<line x1="580.10" y1="283.40" x2="674.25" y2="283.40" stroke="#2e2e2e" stroke-width="1" />
<line x1="575.80" y1="283.40" x2="580.60" y2="283.40" stroke="#2e2e2e" stroke-width="1" />
<text x="573.40" y="286.30" font-size="9.5" text-anchor="end" font-weight="normal" fill="#1c1c1c" >0</text>
<line x1="575.80" y1="261.86" x2="580.60" y2="261.86" stroke="#2e2e2e" stroke-width="1" />
<text x="573.40" y="264.76" font-size="9.5" text-anchor="end" font-weight="normal" fill="#1c1c1c" >25</text>
<line x1="575.80" y1="240.32" x2="580.60" y2="240.32" stroke="#2e2e2e" stroke-width="1" />
<text x="573.40" y="243.22" font-size="9.5" text-anchor="end" font-weight="normal" fill="#1c1c1c" >50</text>
<line x1="575.80" y1="218.77" x2="580.60" y2="218.77" stroke="#2e2e2e" stroke-width="1" />
<text x="573.40" y="221.67" font-size="9.5" text-anchor="end" font-weight="normal" fill="#1c1c1c" >75</text>
<line x1="575.80" y1="197.23" x2="580.60" y2="197.23" stroke="#2e2e2e" stroke-width="1" />
<text x="573.40" y="200.13" font-size="9.5" text-anchor="end" font-weight="normal" fill="#1c1c1c" >100</text>
<text x="0" y="0" font-size="9.6" text-anchor="end" fill="#1c1c1c" transform="translate(599.52,287.90) rotate(-60)">Overall</text>
<text x="0" y="0" font-size="9.6" text-anchor="end" fill="#1c1c1c" transform="translate(622.92,287.90) rotate(-60)">Out</text>
<text x="0" y="0" font-size="9.6" text-anchor="end" fill="#1c1c1c" transform="translate(646.32,287.90) rotate(-60)">Bou</text>
<text x="0" y="0" font-size="9.6" text-anchor="end" fill="#1c1c1c" transform="translate(669.72,287.90) rotate(-60)">In</text>
<text x="0" y="0" font-size="9.6" text-anchor="middle" fill="#1c1c1c" transform="translate(555.40,223.80) rotate(-90)">Slow fraction (%)</text>
<text x="545.60" y="173.80" font-size="12.5" text-anchor="start" font-weight="bold" fill="#111" style="stroke:none">J</text>
</svg>
</body></html>
